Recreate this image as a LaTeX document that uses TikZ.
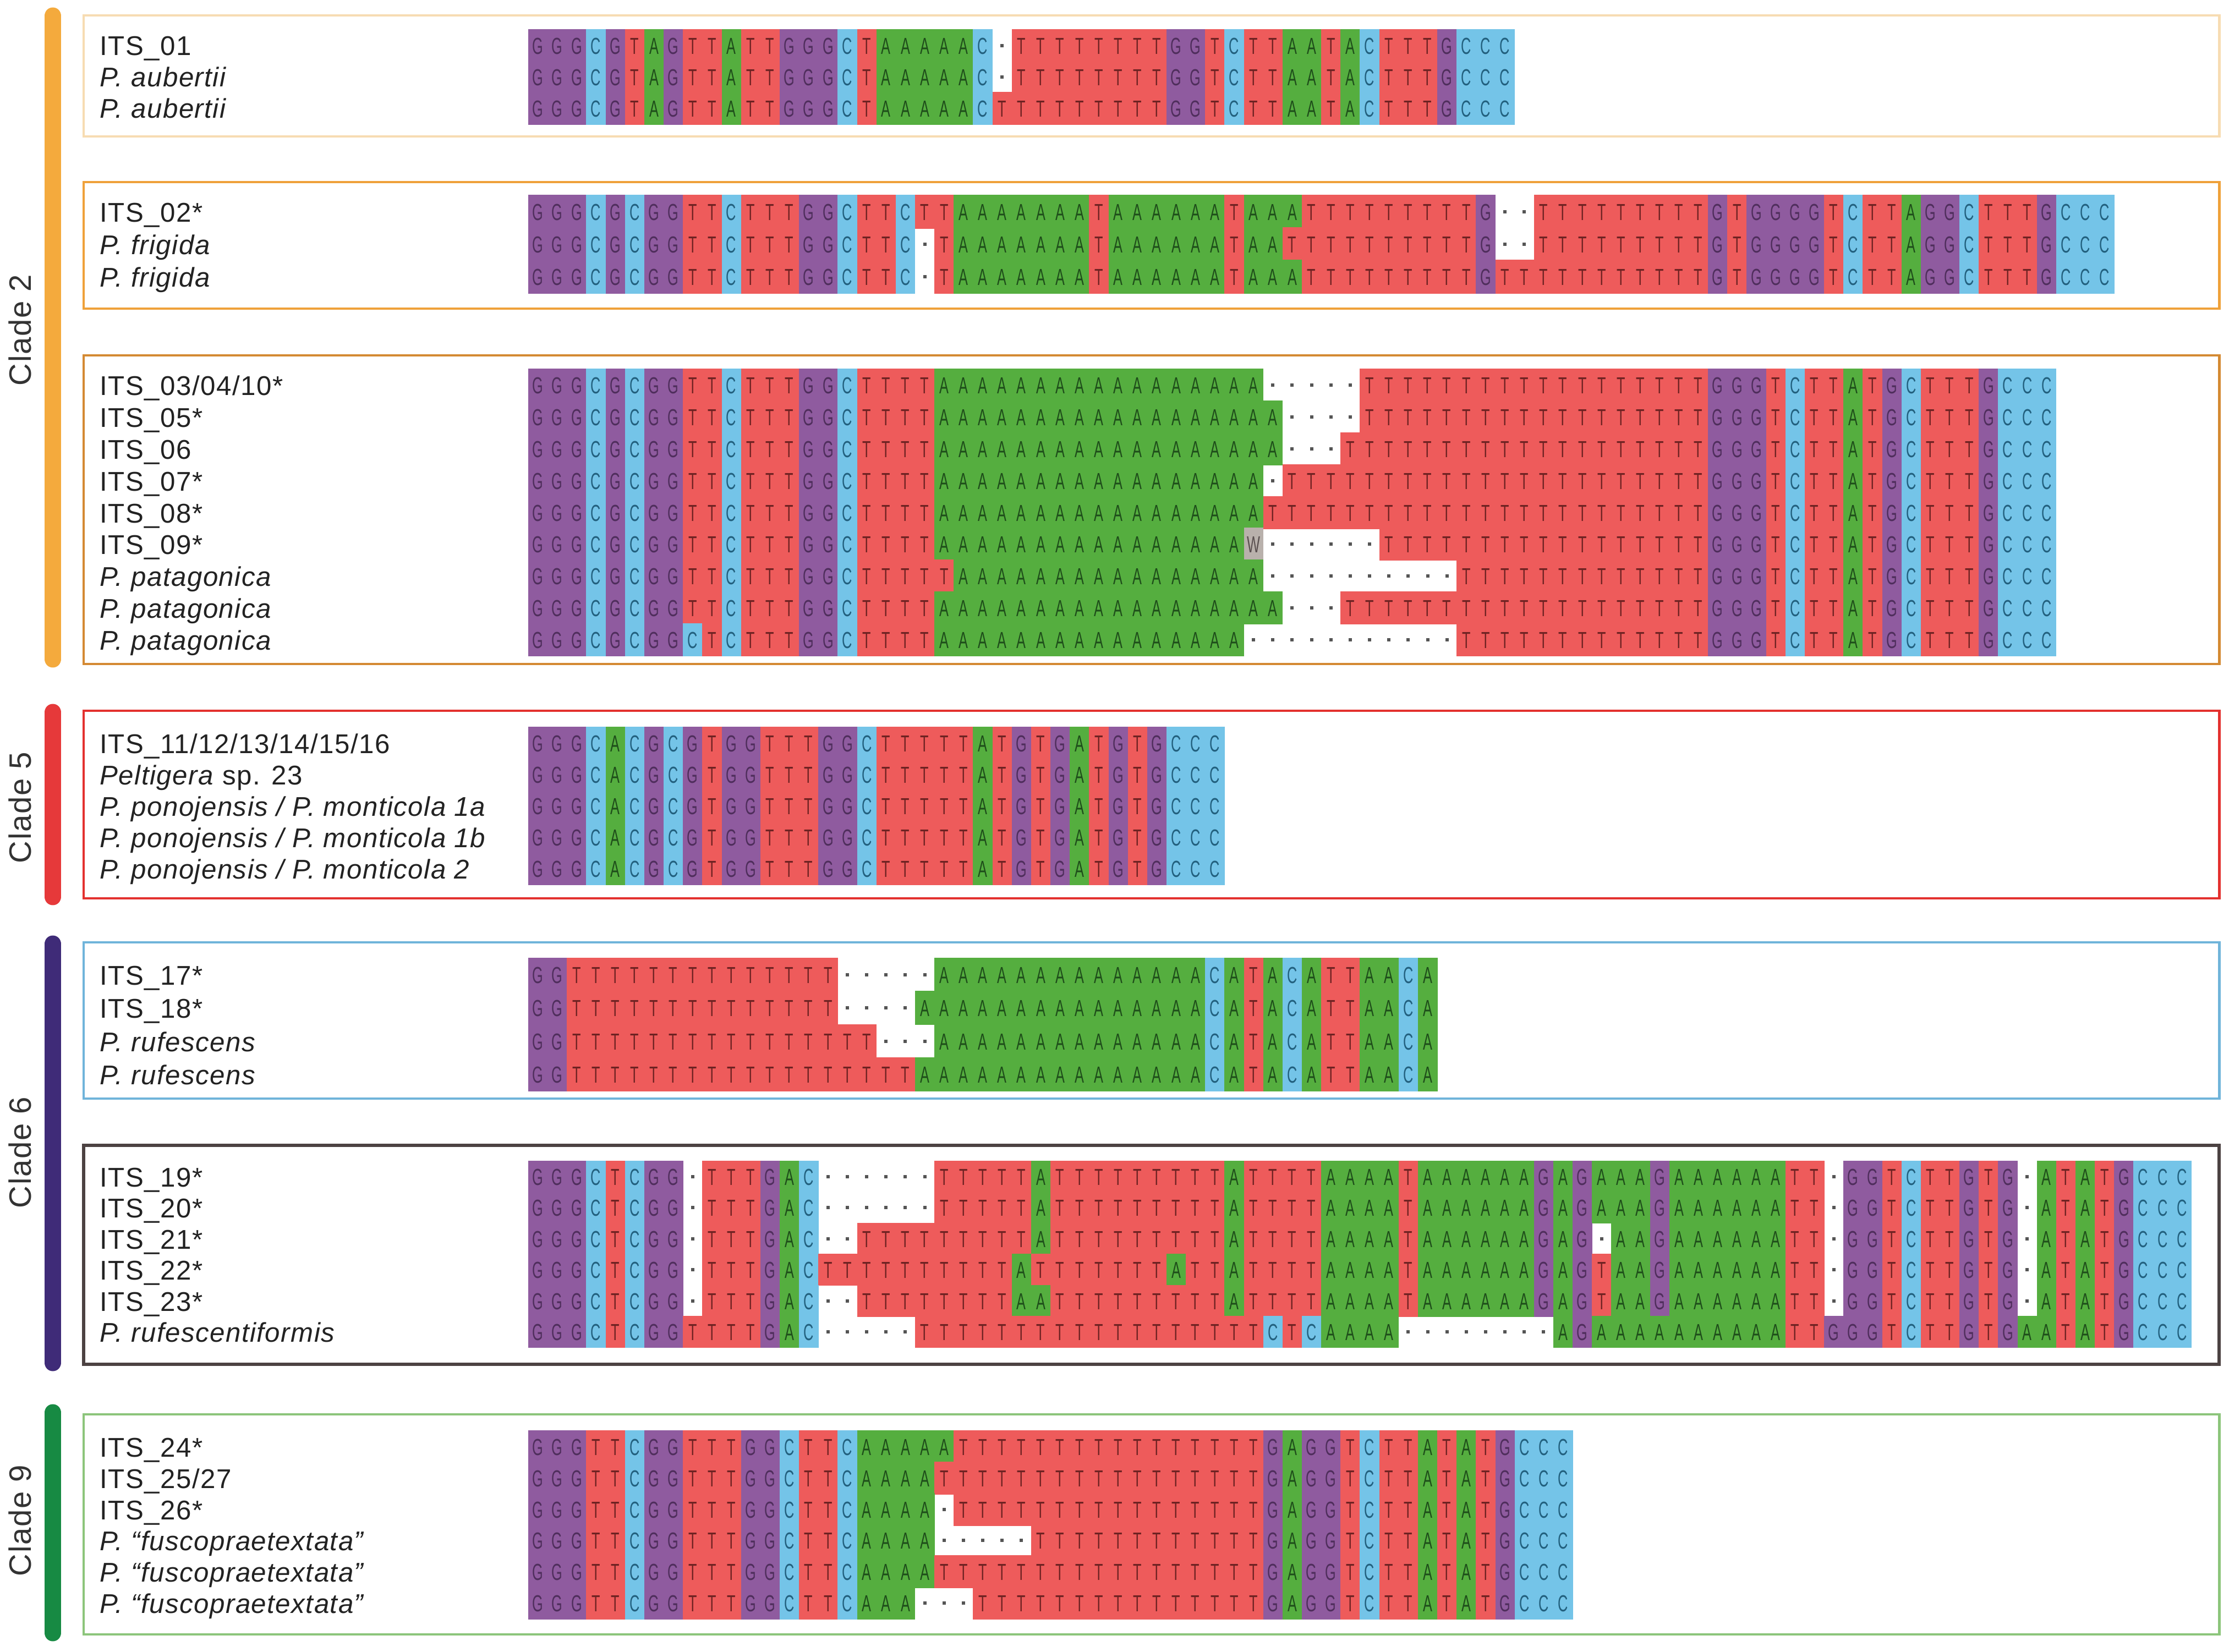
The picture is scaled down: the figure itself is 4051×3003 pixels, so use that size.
\documentclass[tikz,border=0pt]{standalone}
\usepackage{fontspec}
\setmainfont{Liberation Sans}
\newfontfamily\labfont[LetterSpace=3]{Liberation Sans}
\newfontfamily\seqfont[FakeStretch=0.6]{Liberation Sans}
\definecolor{colG}{HTML}{8F5B9F}
\definecolor{colC}{HTML}{74C4E8}
\definecolor{colT}{HTML}{EE5B5B}
\definecolor{colA}{HTML}{55AE3F}
\definecolor{colW}{HTML}{B9B1AC}
\definecolor{txtG}{HTML}{4F2E5C}
\definecolor{txtC}{HTML}{22607E}
\definecolor{txtT}{HTML}{6E2222}
\definecolor{txtA}{HTML}{1E4D1A}
\definecolor{txtW}{HTML}{5A5050}
\definecolor{gapcol}{HTML}{555555}
\definecolor{labcol}{HTML}{222222}
\definecolor{cladetext}{HTML}{333333}
\definecolor{cladeTwo}{HTML}{F4AA3D}
\definecolor{cladeFive}{HTML}{E6393A}
\definecolor{cladeSix}{HTML}{3F2B78}
\definecolor{cladeNine}{HTML}{178A43}
\definecolor{frA}{HTML}{F7DCB2}
\definecolor{frB}{HTML}{EFA13A}
\definecolor{frC}{HTML}{D48A33}
\definecolor{frD}{HTML}{E3312F}
\definecolor{frE}{HTML}{70B4DA}
\definecolor{frF}{HTML}{4C4242}
\definecolor{frG}{HTML}{8CC57B}
\makeatletter
\newcount\seqidx
\def\seqhh{28.8}
\newcommand\seqrow[3]{% #1 name, #2 y centre, #3 letters
  \def\seqname{#1}\def\seqy{#2}\seqidx=0\relax
  \seq@parse#3\relax}
\def\seq@parse#1{%
  \ifx\relax#1\else
    \seq@cell#1%
    \advance\seqidx by 1\relax
    \expandafter\seq@parse
  \fi}
\def\seq@cell#1{%
  \pgfmathsetmacro\seqx{960+\the\seqidx*35.15}%
  \if-#1%
    \fill[gapcol] (\seqx+14.6,\seqy-3) rectangle (\seqx+20.6,\seqy+3);
  \else
    \fill[col#1] (\seqx,\seqy-\seqhh) rectangle (\seqx+35.6,\seqy+\seqhh);
    \node[seqlet,text=txt#1] (\seqname c\the\seqidx) at (\seqx+17.6,\seqy) {#1};
  \fi}
\makeatother
\tikzset{
  seqlet/.style={inner sep=0pt, font=\seqfont\fontsize{12}{12}\selectfont, text height=8.6pt, text depth=0pt, anchor=center},
  lab/.style={anchor=base west, inner sep=0pt, font=\labfont\fontsize{14}{16}\selectfont, text=labcol},
  cladelab/.style={rotate=90, inner sep=0pt, font=\labfont\fontsize{16}{18}\selectfont, text=cladetext},
  boxframe/.style={line width=1.4pt},
  cladebar/.style={line width=8.8pt, line cap=round},
}
\begin{document}
\begin{tikzpicture}[x=0.01cm,y=-0.01cm]
\useasboundingbox (0,0) rectangle (4051,3003);
\fill[white] (0,0) rectangle (4051,3003);
% clade bars
\draw[cladebar,cladeTwo] (96,29) -- (96,1198);
\draw[cladebar,cladeFive] (96,1295) -- (96,1630);
\draw[cladebar,cladeSix] (96,1716) -- (96,2477);
\draw[cladebar,cladeNine] (96,2568) -- (96,2968);
\node[cladelab] (k2) at (36,600) {Clade 2};
\node[cladelab] (k5) at (36,1468) {Clade 5};
\node[cladelab] (k6) at (36,2095) {Clade 6};
\node[cladelab] (k9) at (36,2764) {Clade 9};
% frames
\draw[boxframe,frA] (152,28) rectangle (4033,248);
\draw[boxframe,frB] (152,331) rectangle (4033,561);
\draw[boxframe,frC] (152,646) rectangle (4033,1207);
\draw[boxframe,frD] (152,1292) rectangle (4033,1633);
\draw[boxframe,frE] (152,1713) rectangle (4033,1997);
\draw[boxframe,frF,line width=1.7pt] (152,2082) rectangle (4033,2480);
\draw[boxframe,frG] (152,2571) rectangle (4033,2971);
% labels
\node[lab] (l1) at (181,101) {ITS\_01};
\node[lab] (l2) at (181,158) {\itshape P. aubertii};
\node[lab] (l3) at (181,215) {\itshape P. aubertii};
\node[lab] (l4) at (181,403) {ITS\_02*};
\node[lab] (l5) at (181,462) {\itshape P. frigida};
\node[lab] (l6) at (181,521) {\itshape P. frigida};
\node[lab] (l7) at (181,718) {ITS\_03/04/10*};
\node[lab] (l8) at (181,776) {ITS\_05*};
\node[lab] (l9) at (181,834) {ITS\_06};
\node[lab] (l10) at (181,892) {ITS\_07*};
\node[lab] (l11) at (181,950) {ITS\_08*};
\node[lab] (l12) at (181,1007) {ITS\_09*};
\node[lab] (l13) at (181,1065) {\itshape P. patagonica};
\node[lab] (l14) at (181,1123) {\itshape P. patagonica};
\node[lab] (l15) at (181,1181) {\itshape P. patagonica};
\node[lab] (l16) at (181,1369) {ITS\_11/12/13/14/15/16};
\node[lab] (l17) at (181,1426) {\textit{Peltigera} sp. 23};
\node[lab] (l18) at (181,1483) {\itshape P. ponojensis / P. monticola 1a};
\node[lab] (l19) at (181,1540) {\itshape P. ponojensis / P. monticola 1b};
\node[lab] (l20) at (181,1597) {\itshape P. ponojensis / P. monticola 2};
\node[lab] (l21) at (181,1790) {ITS\_17*};
\node[lab] (l22) at (181,1850) {ITS\_18*};
\node[lab] (l23) at (181,1911) {\itshape P. rufescens};
\node[lab] (l24) at (181,1971) {\itshape P. rufescens};
\node[lab] (l25) at (181,2157) {ITS\_19*};
\node[lab] (l26) at (181,2213) {ITS\_20*};
\node[lab] (l27) at (181,2270) {ITS\_21*};
\node[lab] (l28) at (181,2326) {ITS\_22*};
\node[lab] (l29) at (181,2383) {ITS\_23*};
\node[lab] (l30) at (181,2439) {\itshape P. rufescentiformis};
\node[lab] (l31) at (181,2648) {ITS\_24*};
\node[lab] (l32) at (181,2705) {ITS\_25/27};
\node[lab] (l33) at (181,2762) {ITS\_26*};
\node[lab] (l34) at (181,2818) {\itshape P. “fuscopraetextata”};
\node[lab] (l35) at (181,2875) {\itshape P. “fuscopraetextata”};
\node[lab] (l36) at (181,2932) {\itshape P. “fuscopraetextata”};
% block 1
\def\seqhh{29.8}
\seqrow{a1}{83}{GGGCGTAGTTATTGGGC TAAAAAC - TTTTTTTT GGTCTTAATACTTTGCCC}
\seqrow{a2}{140}{GGGCGTAGTTATTGGGC TAAAAAC - TTTTTTTT GGTCTTAATACTTTGCCC}
\seqrow{a3}{197}{GGGCGTAGTTATTGGGC TAAAAAC TTTTTTTTT GGTCTTAATACTTTGCCC}
% block 2
\def\seqhh{30.8}
\seqrow{b1}{385}{GGGCGCGGTTCTTTGGCTTCTT AAAAAAA T AAAAAA T AAA TTTTTTTTT G -- TTTTTTTTT GTGGGGTCTTAGGCTTTGCCC}
\seqrow{b2}{444}{GGGCGCGGTTCTTTGGCTTC-T AAAAAAA T AAAAAA T AAT TTTTTTTTT G -- TTTTTTTTT GTGGGGTCTTAGGCTTTGCCC}
\seqrow{b3}{503}{GGGCGCGGTTCTTTGGCTTC-T AAAAAAA T AAAAAA T AAA TTTTTTTTT G TTTTTTTTTTT GTGGGGTCTTAGGCTTTGCCC}
% block 3
\def\seqhh{30.2}
\seqrow{c1}{700}{GGGCGCGGTTCTTTGGCTTTT AAAAA AAAAA AAAAA AA ----- TTTTT TTTTT TTTTT TTT GGGTCTTATGCTTTGCCC}
\seqrow{c2}{758}{GGGCGCGGTTCTTTGGCTTTT AAAAA AAAAA AAAAA AAA ---- TTTTT TTTTT TTTTT TTT GGGTCTTATGCTTTGCCC}
\seqrow{c3}{816}{GGGCGCGGTTCTTTGGCTTTT AAAAA AAAAA AAAAA AAA --- TTTTT TTTTT TTTTT TTTT GGGTCTTATGCTTTGCCC}
\seqrow{c4}{874}{GGGCGCGGTTCTTTGGCTTTT AAAAA AAAAA AAAAA AA - TTTTT TTTTT TTTTT TTTTT TT GGGTCTTATGCTTTGCCC}
\seqrow{c5}{932}{GGGCGCGGTTCTTTGGCTTTT AAAAA AAAAA AAAAA AA TTTTT TTTTT TTTTT TTTTT TTT GGGTCTTATGCTTTGCCC}
\seqrow{c6}{989}{GGGCGCGGTTCTTTGGCTTTT AAAAA AAAAA AAAAA A W ------ TTTTT TTTTT TTTTT TT GGGTCTTATGCTTTGCCC}
\seqrow{c7}{1047}{GGGCGCGGTTCTTTGGCTTTTT AAAAA AAAAA AAAAA A ---------- TTTTT TTTTT TTT GGGTCTTATGCTTTGCCC}
\seqrow{c8}{1105}{GGGCGCGGTTCTTTGGCTTTT AAAAA AAAAA AAAAA AAA --- TTTTT TTTTT TTTTT TTTT GGGTCTTATGCTTTGCCC}
\seqrow{c9}{1163}{GGGCGCGGCTCTTTGGCTTTT AAAAA AAAAA AAAAA A ----------- TTTTT TTTTT TTT GGGTCTTATGCTTTGCCC}
% block 4
\def\seqhh{29.8}
\seqrow{d1}{1351}{GGGCACGCGTGGTTTGGCTTTTTATGTGATGTGCCC}
\seqrow{d2}{1408}{GGGCACGCGTGGTTTGGCTTTTTATGTGATGTGCCC}
\seqrow{d3}{1465}{GGGCACGCGTGGTTTGGCTTTTTATGTGATGTGCCC}
\seqrow{d4}{1522}{GGGCACGCGTGGTTTGGCTTTTTATGTGATGTGCCC}
\seqrow{d5}{1579}{GGGCACGCGTGGTTTGGCTTTTTATGTGATGTGCCC}
% block 5
\def\seqhh{31.4}
\seqrow{e1}{1772}{GG TTTTT TTTTT TTTT ----- AAAAA AAAAA AAAA CATACATTAACA}
\seqrow{e2}{1832}{GG TTTTT TTTTT TTTT ---- AAAAA AAAAA AAAAA CATACATTAACA}
\seqrow{e3}{1893}{GG TTTTT TTTTT TTTTT T --- AAAAA AAAAA AAAA CATACATTAACA}
\seqrow{e4}{1953}{GG TTTTT TTTTT TTTTT TTT AAAAA AAAAA AAAAA CATACATTAACA}
% block 6
\def\seqhh{29.4}
\seqrow{f1}{2139}{GGGCTCGG-TTTGAC ------ TTTTT A TTTTT TTTT A TTTT AAAA T AAAAAA G A G AAA G AAAAAA TT - GGTCTTGTG - ATATGCCC}
\seqrow{f2}{2195}{GGGCTCGG-TTTGAC ------ TTTTT A TTTTT TTTT A TTTT AAAA T AAAAAA G A G AAA G AAAAAA TT - GGTCTTGTG - ATATGCCC}
\seqrow{f3}{2252}{GGGCTCGG-TTTGAC -- TTTTT TTTT A TTTTT TTTT A TTTT AAAA T AAAAAA G A G - AA G AAAAAA TT - GGTCTTGTG - ATATGCCC}
\seqrow{f4}{2308}{GGGCTCGG-TTTGAC TTTTT TTTTT A TTTTTTT A TT A TTTT AAAA T AAAAAA G A G T AA G AAAAAA TT - GGTCTTGTG - ATATGCCC}
\seqrow{f5}{2365}{GGGCTCGG-TTTGAC -- TTTTT TTT AA TTTTT TTTT A TTTT AAAA T AAAAAA G A G T AA G AAAAAA TT - GGTCTTGTG - ATATGCCC}
\seqrow{f6}{2421}{GGGCTCGGTTTTGAC ----- TTTTT TTTTT TTTTT TTT CTC AAAA -------- AG AAAAA AAAAA TT GGGTCTTGTG AATATGCCC}
% block 7
\def\seqhh{29.6}
\seqrow{g1}{2630}{GGGTTCGGTTTGGCTTC AAAAA TTTTT TTTTT TTTTT T GAGGTCTTATATGCCC}
\seqrow{g2}{2687}{GGGTTCGGTTTGGCTTC AAAA TTTTT TTTTT TTTTT TT GAGGTCTTATATGCCC}
\seqrow{g3}{2744}{GGGTTCGGTTTGGCTTC AAAA - TTTTT TTTTT TTTTT T GAGGTCTTATATGCCC}
\seqrow{g4}{2800}{GGGTTCGGTTTGGCTTC AAAA ----- TTTTT TTTTT TT GAGGTCTTATATGCCC}
\seqrow{g5}{2857}{GGGTTCGGTTTGGCTTC AAAA TTTTT TTTTT TTTTT TT GAGGTCTTATATGCCC}
\seqrow{g6}{2914}{GGGTTCGGTTTGGCTTC AAA --- TTTTT TTTTT TTTTT GAGGTCTTATATGCCC}
\end{tikzpicture}
\end{document}
